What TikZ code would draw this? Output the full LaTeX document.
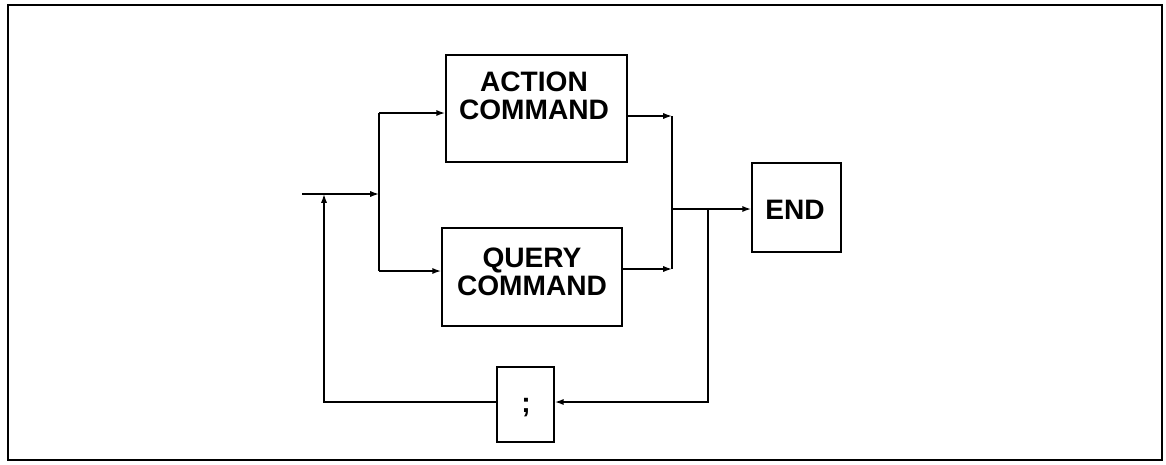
\documentclass[tikz,border=0pt]{standalone}
\usepackage{fontspec}
\setmainfont{Liberation Sans}
\usetikzlibrary{arrows.meta}
\begin{document}
\begin{tikzpicture}[x=0.02cm,y=-0.02cm,
  box/.style={draw,line width=1pt,inner sep=0pt},
  lbl/.style={font=\fontsize{16pt}{15.6pt}\selectfont\bfseries,align=center,inner sep=0pt},
  conn/.style={line width=0.85pt},
  arr/.style={conn,-{Latex[length=5pt,width=3.5pt]}}]
\useasboundingbox (0,0) rectangle (1166,464);
\draw[line width=1.1pt] (8,5) rectangle (1162,460);
% boxes
\node[box,minimum width=181*0.02cm,minimum height=107*0.02cm] (action) at (536.5,108.5) {};
\node[lbl] (actiontxt) at (534,96) {ACTION\\COMMAND};
\node[box,minimum width=180*0.02cm,minimum height=98*0.02cm] (query) at (532,277) {};
\node[lbl] (querytxt) at (532,272) {QUERY\\COMMAND};
\node[box,minimum width=89*0.02cm,minimum height=89*0.02cm] (end) at (796.5,207.5) {};
\node[lbl] (endtxt) at (795,210) {END};
\node[box,minimum width=57*0.02cm,minimum height=75*0.02cm] (semi) at (525.5,404.5) {};
\node[lbl] (semitxt) at (526,408) {;};
% coordinates
\coordinate (start) at (302,194);
\coordinate (split) at (379,194);
\coordinate (splitT) at (379,113);
\coordinate (splitB) at (379,271);
\coordinate (joinT) at (672,116);
\coordinate (joinB) at (672,269);
\coordinate (join) at (672,209);
\coordinate (tap) at (708,209);
\coordinate (tapB) at (708,402);
\coordinate (back) at (324,402);
\coordinate (backT) at (324,194);
% connectors
\draw[arr] (start) -- (split);
\draw[conn] (splitT) -- (splitB);
\draw[arr] (splitT) -- (splitT -| action.west);
\draw[arr] (splitB) -- (splitB -| query.west);
\draw[arr] (joinT -| action.east) -- (joinT);
\draw[arr] (joinB -| query.east) -- (joinB);
\draw[conn] (joinT) -- (joinB);
\draw[arr] (join) -- (join -| end.west);
\draw[arr] (tap) -- (tapB) -- (tapB -| semi.east);
\draw[arr] (back -| semi.west) -- (back) -- (backT);
\end{tikzpicture}
\end{document}
